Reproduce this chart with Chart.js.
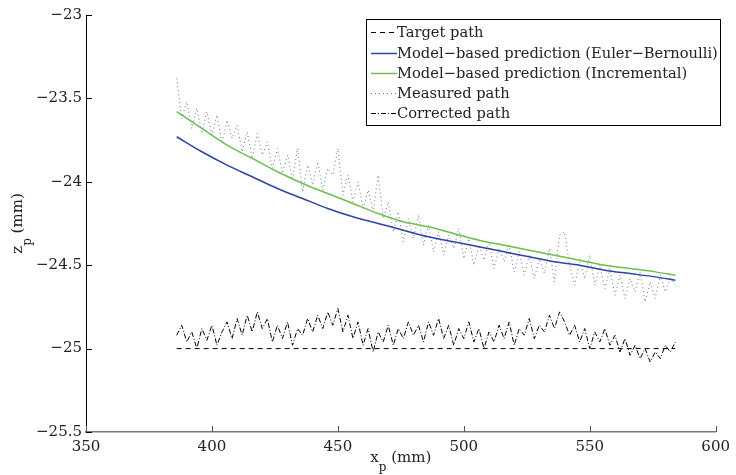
<!DOCTYPE html>
<html>
<head>
<meta charset="utf-8">
<script src="https://cdn.jsdelivr.net/npm/chart.js@4/dist/chart.umd.min.js"></script>
<style>
  body { margin: 0; background: #fff; }
</style>
</head>
<body>
<canvas id="path-chart" width="736" height="475"></canvas>
<script>
// model curves (coarse grid)
const modelX = [386, 396, 406, 416, 426, 436, 446, 456, 466, 476, 486, 496, 506, 516, 526, 536, 546, 556, 566, 576, 584];
const eulerBernoulli = [-23.73, -23.82, -23.90, -23.97, -24.04, -24.10, -24.16, -24.21, -24.25, -24.29, -24.33, -24.36, -24.39, -24.42, -24.45, -24.48, -24.50, -24.53, -24.55, -24.57, -24.59];
const incremental = [-23.58, -23.68, -23.78, -23.86, -23.94, -24.01, -24.07, -24.13, -24.19, -24.24, -24.27, -24.31, -24.35, -24.38, -24.41, -24.44, -24.47, -24.50, -24.52, -24.54, -24.56];

// measured / corrected samples
const sampleX = [386, 388, 390, 392, 394, 396, 398, 400, 402, 404, 406, 408, 410, 412, 414, 416, 418, 420, 422, 424,
  426, 428, 430, 432, 434, 436, 438, 440, 442, 444, 446, 448, 450, 452, 454, 456, 458, 460, 462, 464,
  466, 468, 470, 472, 474, 476, 478, 480, 482, 484, 486, 488, 490, 492, 494, 496, 498, 500, 502, 504,
  506, 508, 510, 512, 514, 516, 518, 520, 522, 524, 526, 528, 530, 532, 534, 536, 538, 540, 542, 544,
  546, 548, 550, 552, 554, 556, 558, 560, 562, 564, 566, 568, 570, 572, 574, 576, 578, 580, 582, 584];
const measured = [-23.38, -23.62, -23.52, -23.68, -23.56, -23.71, -23.58, -23.72, -23.60, -23.77, -23.63, -23.74, -23.66, -23.82, -23.70, -23.86, -23.71, -23.84, -23.76, -23.92,
  -23.80, -23.95, -23.84, -23.98, -23.80, -24.06, -23.90, -24.02, -23.88, -24.05, -23.92, -23.96, -23.80, -24.08, -23.96, -24.12, -24.00, -24.16, -24.05, -24.18,
  -23.96, -24.22, -24.12, -24.30, -24.18, -24.36, -24.22, -24.34, -24.20, -24.38, -24.26, -24.42, -24.30, -24.44, -24.32, -24.40, -24.28, -24.46, -24.34, -24.50,
  -24.38, -24.47, -24.36, -24.52, -24.40, -24.48, -24.38, -24.54, -24.42, -24.56, -24.44, -24.58, -24.46, -24.55, -24.40, -24.60, -24.32, -24.30, -24.50, -24.62,
  -24.48, -24.58, -24.44, -24.62, -24.50, -24.64, -24.52, -24.68, -24.56, -24.70, -24.58, -24.66, -24.54, -24.72, -24.60, -24.70, -24.56, -24.66, -24.58, -24.62];
const corrected = [-24.92, -24.86, -24.96, -24.90, -25.00, -24.88, -24.95, -24.86, -24.98, -24.90, -24.84, -24.94, -24.82, -24.92, -24.80, -24.90, -24.78, -24.88, -24.82, -24.96,
  -24.86, -24.94, -24.84, -24.98, -24.88, -24.92, -24.82, -24.90, -24.80, -24.88, -24.78, -24.86, -24.76, -24.90, -24.80, -24.94, -24.84, -24.98, -24.88, -25.02,
  -24.90, -24.96, -24.86, -24.98, -24.88, -24.94, -24.84, -24.92, -24.86, -24.96, -24.84, -24.92, -24.82, -24.94, -24.86, -24.98, -24.88, -24.94, -24.84, -24.96,
  -24.88, -25.00, -24.90, -24.96, -24.86, -24.94, -24.84, -24.98, -24.88, -24.92, -24.82, -24.94, -24.86, -24.90, -24.80, -24.88, -24.78, -24.84, -24.92, -24.86,
  -24.96, -24.88, -25.00, -24.90, -24.96, -24.88, -24.98, -24.92, -25.02, -24.94, -25.04, -24.98, -25.06, -25.00, -25.08, -25.02, -25.06, -24.98, -25.02, -24.96];

const targetX = [386, 584];
const target = [-25, -25];

const xTicks = [350, 400, 450, 500, 550, 600];
const yTicks = [-25.5, -25, -24.5, -24, -23.5, -23];

const FONT = "'DejaVu Serif', serif";

function pairs(xs, ys) {
  return xs.map((x, i) => ({ x: x, y: ys[i] }));
}

const minus = (v) => String(v).replace("-", "\u2212");

// inner ticks, axis titles, boxed legend
const matlabLook = {
  id: "matlabLook",
  afterDraw(chart) {
    const ctx = chart.ctx;
    const area = chart.chartArea;
    const xs = chart.scales.x;
    const ys = chart.scales.y;
    ctx.save();

    ctx.lineWidth = 1;
    ctx.strokeStyle = "#555";
    xTicks.forEach((v) => {
      const px = Math.round(xs.getPixelForValue(v)) + 0.5;
      ctx.beginPath();
      ctx.moveTo(px, area.bottom);
      ctx.lineTo(px, area.bottom - 6);
      ctx.stroke();
    });
    ctx.strokeStyle = "#000";
    yTicks.forEach((v) => {
      const py = Math.round(ys.getPixelForValue(v)) + 0.5;
      ctx.beginPath();
      ctx.moveTo(area.left, py);
      ctx.lineTo(area.left + 6, py);
      ctx.stroke();
    });

    // axis titles with subscript p
    ctx.fillStyle = "#222";
    ctx.textBaseline = "alphabetic";
    ctx.textAlign = "left";
    const big = "15px " + FONT;
    const small = "12px " + FONT;
    function subTitle(main, rest) {
      ctx.font = big;
      const w1 = ctx.measureText(main).width;
      ctx.font = small;
      const w2 = ctx.measureText("p").width;
      ctx.font = big;
      const w3 = ctx.measureText(rest).width;
      const start = -(w1 + w2 + w3) / 2;
      ctx.fillText(main, start, 0);
      ctx.font = small;
      ctx.fillText("p", start + w1, 9);
      ctx.font = big;
      ctx.fillText(rest, start + w1 + w2, 0);
    }
    ctx.save();
    ctx.translate((area.left + area.right) / 2, 462);
    subTitle("x", " (mm)");
    ctx.restore();
    ctx.save();
    ctx.translate(22, (area.top + area.bottom) / 2);
    ctx.rotate(-Math.PI / 2);
    subTitle("z", " (mm)");
    ctx.restore();

    // legend
    const box = { l: 366.5, t: 19.5, r: 720.5, b: 125.5 };
    ctx.fillStyle = "#fff";
    ctx.fillRect(box.l, box.t, box.r - box.l, box.b - box.t);
    ctx.strokeStyle = "#000";
    ctx.lineWidth = 1;
    ctx.setLineDash([]);
    ctx.strokeRect(box.l, box.t, box.r - box.l, box.b - box.t);
    const rows = [32, 53, 73, 93, 113];
    // shrink text so the longest label fits the box like in the figure
    ctx.font = "16px " + FONT;
    let widest = 0;
    chart.data.datasets.forEach((ds) => {
      widest = Math.max(widest, ctx.measureText(ds.label).width);
    });
    const legendSize = Math.min(16, 16 * 321 / widest);
    ctx.font = legendSize.toFixed(2) + "px " + FONT;
    ctx.textBaseline = "middle";
    chart.data.datasets.forEach((ds, i) => {
      const y = rows[i] + 0.5;
      ctx.strokeStyle = ds.borderColor;
      ctx.lineWidth = ds.borderWidth;
      ctx.setLineDash(ds.borderDash || []);
      ctx.beginPath();
      ctx.moveTo(371, y);
      ctx.lineTo(397, y);
      ctx.stroke();
      ctx.fillStyle = "#222";
      ctx.fillText(ds.label, 397, rows[i] + 1);
    });
    ctx.restore();
  },
};

const pathCanvas = document.getElementById("path-chart");

const pathData = {
  datasets: [
    {
      label: "Target path",
      data: pairs(targetX, target),
      borderColor: "#000",
      borderWidth: 1,
      borderDash: [5, 4],
      order: 1,
    },
    {
      label: "Model\u2212based prediction (Euler\u2212Bernoulli)",
      data: pairs(modelX, eulerBernoulli),
      borderColor: "#2b44a8",
      borderWidth: 1.5,
      cubicInterpolationMode: "monotone",
      order: 2,
    },
    {
      label: "Model\u2212based prediction (Incremental)",
      data: pairs(modelX, incremental),
      borderColor: "#6cc04a",
      borderWidth: 1.5,
      cubicInterpolationMode: "monotone",
      order: 3,
    },
    {
      label: "Measured path",
      data: pairs(sampleX, measured),
      borderColor: "#6a7094",
      borderWidth: 1,
      borderDash: [1, 3],
      order: 4,
    },
    {
      label: "Corrected path",
      data: pairs(sampleX, corrected),
      borderColor: "#000",
      borderWidth: 1,
      borderDash: [5, 2, 1, 2],
      order: 0,
    },
  ],
};

const pathOptions = {
  responsive: false,
  animation: false,
  layout: {
    padding: { left: 0, right: 12, top: 15, bottom: 0 },
  },
  elements: {
    point: { radius: 0 },
    line: { tension: 0, fill: false },
  },
  plugins: {
    legend: { display: false },
    tooltip: { enabled: false },
  },
  scales: {
    x: {
      type: "linear",
      min: 350,
      max: 600,
      afterFit: (s) => { s.height = 43; },
      afterBuildTicks: (s) => { s.ticks = xTicks.map((v) => ({ value: v })); },
      grid: { display: false, drawTicks: false },
      border: { display: true, color: "#777", width: 1.5 },
      ticks: {
        padding: 6,
        color: "#222",
        font: { family: FONT, size: 15 },
        maxRotation: 0,
      },
    },
    y: {
      type: "linear",
      min: -25.5,
      max: -23,
      afterFit: (s) => { s.width = 86; },
      afterBuildTicks: (s) => { s.ticks = yTicks.map((v) => ({ value: v })); },
      grid: { display: false, drawTicks: false },
      border: { display: true, color: "#000", width: 1 },
      ticks: {
        padding: 4,
        color: "#222",
        font: { family: FONT, size: 15 },
        callback: (v) => minus(v),
      },
    },
  },
};

let pathChart = new Chart(pathCanvas, {
  type: "line",
  data: pathData,
  options: pathOptions,
  plugins: [matlabLook],
});
</script>
</body>
</html>
